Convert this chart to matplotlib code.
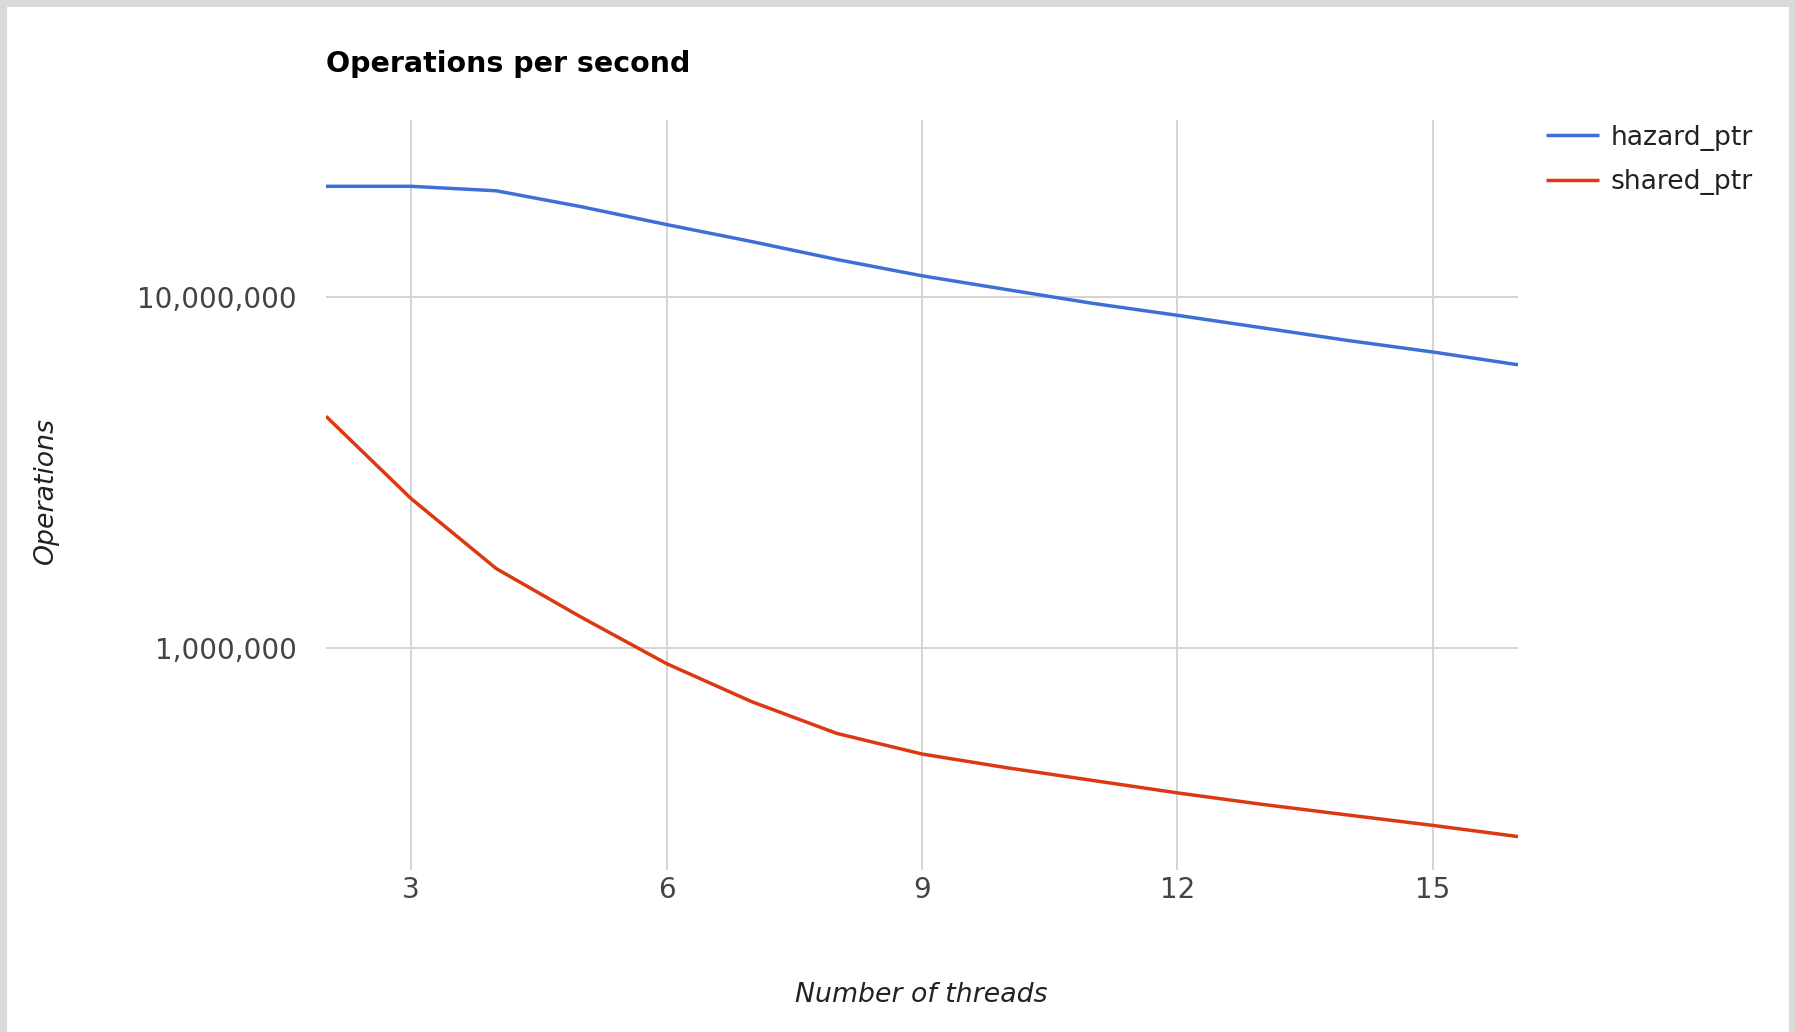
import numpy as np
import matplotlib.pyplot as plt
from matplotlib.patches import Rectangle
from matplotlib.ticker import FixedLocator, FuncFormatter, NullLocator

threads = [2, 3, 4, 5, 6, 7, 8, 9, 10, 11, 12, 13, 14, 15, 16]
hazard_ptr = [20.7e6, 20.7e6, 20.1e6, 18.1e6, 16.1e6, 14.4e6, 12.8e6, 11.5e6,
              10.5e6, 9.6e6, 8.87e6, 8.17e6, 7.52e6, 6.97e6, 6.41e6]
shared_ptr = [4.57e6, 2.66e6, 1.68e6, 1.22e6, 0.90e6, 0.701e6, 0.569e6, 0.497e6,
              0.454e6, 0.418e6, 0.385e6, 0.357e6, 0.333e6, 0.311e6, 0.289e6]
x_ticks = [3, 6, 9, 12, 15]
y_ticks = [1e6, 1e7]

plt.rcParams['font.family'] = ['DejaVu Sans']

W, H = 1795, 1032
fig = plt.figure(figsize=(W / 100, H / 100), dpi=100, facecolor='#dadada')
# white card inside the grey frame
fig.patches.append(Rectangle((7 / W, 0), (1789 - 7) / W, (H - 7) / H,
                             transform=fig.transFigure, facecolor='white',
                             edgecolor='none', zorder=-1))

ax = fig.add_axes([326 / W, 1 - 870 / H, (1518 - 326) / W, (870 - 120) / H])
ax.set_facecolor('none')

ax.plot(threads, hazard_ptr, color='#3d6fd6', lw=2.5, label='hazard_ptr',
        solid_capstyle='butt', solid_joinstyle='round')
ax.plot(threads, shared_ptr, color='#dc3912', lw=2.5, label='shared_ptr',
        solid_capstyle='butt', solid_joinstyle='round')

ax.set_yscale('log')
ax.set_xlim(2, 16)
ax.set_ylim(2.32e5, 3.2e7)
ax.xaxis.set_major_locator(FixedLocator(x_ticks))
ax.yaxis.set_major_locator(FixedLocator(y_ticks))
ax.yaxis.set_minor_locator(NullLocator())
ax.yaxis.set_major_formatter(FuncFormatter(lambda v, p: f'{int(v):,}'))
ax.grid(True, color='#d4d4d4', lw=1.4)
ax.set_axisbelow(True)
for s in ax.spines.values():
    s.set_visible(False)
ax.tick_params(length=0, labelsize=20, labelcolor='#444444')
ax.tick_params(axis='x', pad=4.5)
ax.tick_params(axis='y', pad=21)

fig.text(326 / W, 1 - 64 / H, 'Operations per second', fontsize=20.5,
         fontweight='bold', color='#000000', ha='left', va='center')
fig.text(921 / W, 1 - 995 / H, 'Number of threads', fontsize=19.3,
         style='italic', color='#222222', ha='center', va='center')
fig.text(46 / W, 1 - 490 / H, 'Operations', fontsize=19.3, style='italic',
         color='#222222', ha='center', va='center', rotation=90)

ax.legend(loc='upper left', bbox_to_anchor=(1522 / W, 1 - 100.5 / H),
          bbox_transform=fig.transFigure, frameon=False, fontsize=19.2,
          labelcolor='#222222', handlelength=2.0, handletextpad=0.43,
          labelspacing=0.7)

fig.savefig('out.png', dpi=100, facecolor=fig.get_facecolor())
